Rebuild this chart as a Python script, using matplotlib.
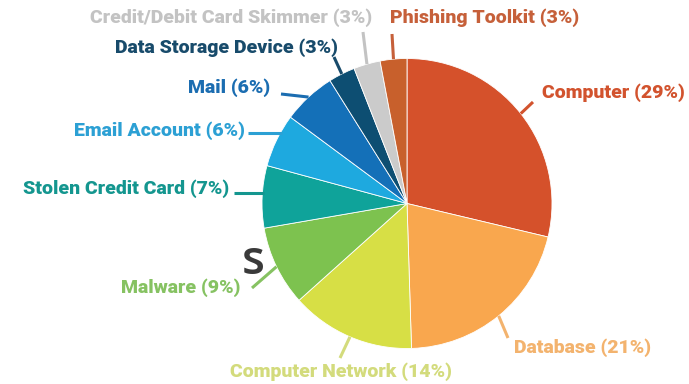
import numpy as np
import matplotlib
matplotlib.use("Agg")
import matplotlib.pyplot as plt

# data, clockwise from 12 o'clock
categories = ["Computer", "Database", "Computer Network", "Malware",
              "Stolen Credit Card", "Email Account", "Mail",
              "Data Storage Device", "Credit/Debit Card Skimmer", "Phishing Toolkit"]
shares = [29, 21, 14, 9, 7, 6, 6, 3, 3, 3]
slice_colors = ["#D5512B", "#F9A74E", "#D7DF45", "#7DC24F", "#0FA39A",
                "#1EA9DF", "#1470B8", "#0D4E72", "#CBCBCB", "#C8602C"]
label_colors = ["#D2532E", "#F3B36E", "#D3DB7C", "#86C262", "#14968F",
                "#2CA0D4", "#1B6DB1", "#184B6B", "#C3C3C3", "#C6603A"]

W, H = 689, 384
# label anchor (px), alignment, leader outer end (px), horizontal leader?
label_pos = [
    (542, 93, "left", (533, 102), False),
    (514, 348, "left", (508, 338), False),
    (341, 372, "center", (340, 358), False),
    (240, 288, "right", (252, 288), False),
    (229, 189, "right", (234, 193), True),
    (245, 131, "right", (248, 133), True),
    (270, 88, "right", (281, 94), False),
    (338, 48, "right", (334, 57), False),
    (372, 18, "right", (363, 32), False),
    (390, 18, "left", (392, 34), False),
]

cx, cy, R = 407, 203.5, 145

fig = plt.figure(figsize=(W / 100, H / 100), dpi=100)
ax = fig.add_axes([0, 0, 1, 1])

wedges, _ = ax.pie(shares, colors=slice_colors, startangle=90, counterclock=False,
                   center=(cx, H - cy), radius=R, frame=True,
                   wedgeprops=dict(linewidth=0.6, edgecolor="white"))
ax.set_xlim(0, W)
ax.set_ylim(0, H)
ax.axis("off")

for w, cat, val, col, (tx, ty, ha, end, flat) in zip(wedges, categories, shares,
                                                      label_colors, label_pos):
    if flat:
        x0 = cx - np.sqrt(R ** 2 - (end[1] - cy) ** 2) + 2
        y0 = H - end[1]
    else:
        mid = np.deg2rad((w.theta1 + w.theta2) / 2)
        x0 = cx + R * np.cos(mid)
        y0 = (H - cy) + R * np.sin(mid)
    ax.plot([x0, end[0]], [y0, H - end[1]], color=col, lw=2.2,
            solid_capstyle="butt", zorder=1)
    ax.text(tx, H - ty, f"{cat} ({val}%)", color=col, ha=ha, va="center",
            fontsize=14, fontweight="heavy", family="Roboto")

# cut-off slide title letter
ax.text(253, H - 261, "s", color="#3A3A3A", fontsize=34, family="Open Sans",
        fontweight="semibold", ha="center", va="center")

fig.savefig("out.png", dpi=100)
